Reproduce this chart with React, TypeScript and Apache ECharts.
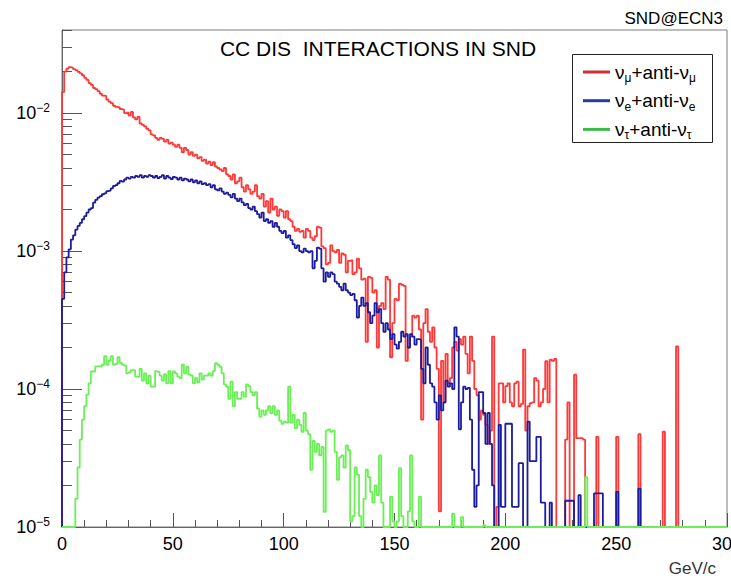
import React, { useEffect, useRef } from "react";
import * as echarts from "echarts";

// Histogram contents, one value per 1 GeV/c bin from 0 to 300 GeV/c,
// expressed in units of 1e-5 (0 = empty bin).
const UNIT = 1e-5;
const BIN_WIDTH = 1;
const X_MIN = 0;
const X_MAX = 300;
const X_INTERVAL = 50;
const Y_MIN = 1e-5;
const Y_MAX = 0.04;

const numuBins = [
  1420, 2000, 2100, 2150, 2130, 2080, 2050, 1990, 1940, 1880,
  1800, 1740, 1650, 1600, 1520, 1490, 1440, 1380, 1340, 1330,
  1250, 1210, 1180, 1130, 1110, 1100, 1070, 1060, 1000, 1010,
  960, 1020, 930, 900, 940, 840, 820, 800, 770, 750,
  700, 690, 660, 640, 660, 650, 620, 640, 600, 610,
  590, 570, 590, 560, 520, 560, 540, 500, 520, 490,
  500, 470, 480, 450, 460, 430, 445, 420, 440, 410,
  400, 390, 380, 400, 360, 350, 330, 360, 310, 320,
  340, 290, 270, 300, 280, 260, 270, 300, 250, 240,
  260, 210, 230, 190, 240, 200, 210, 180, 200, 195,
  175, 195, 170, 165, 150, 140, 145, 138, 140, 125,
  145, 140, 125, 120, 128, 150, 148, 108, 105, 80,
  82, 110, 100, 98, 102, 82, 96, 94, 70, 85,
  86, 68, 70, 88, 75, 62, 63, 22, 65, 64,
  50, 52, 20, 40, 42, 38, 65, 62, 17, 30,
  45, 44, 58, 57, 56, 16, 20, 24, 34, 33,
  34, 27, 6, 30, 38, 26, 22, 28, 20, 14,
  1.3, 16, 8, 18, 11, 12, 20, 22, 19, 23,
  21, 24, 18, 13, 24, 16, 10, 9, 6, 7,
  6.5, 5.5, 4, 5, 24, 0, 1.4, 11, 11, 8,
  10.5, 11, 8, 7.5, 11, 11.3, 7.5, 7.8, 19.3, 5,
  7.5, 7.9, 8, 12, 11.5, 7.5, 8, 10, 15.9, 8,
  16.3, 16, 16.5, 0, 0, 0, 0, 4.3, 8, 0,
  0, 12.7, 4.4, 4.4, 4.4, 4.3, 0, 0, 0, 0,
  0, 4.5, 0, 0, 0, 0, 0, 0, 0, 0,
  4.5, 0, 0, 0, 0, 0, 0, 0, 0, 0,
  4.7, 0, 0, 0, 0, 0, 0, 0, 0, 0,
  0, 4.9, 0, 0, 0, 0, 0, 20.4, 0, 0,
  0, 0, 0, 0, 0, 0, 0, 0, 0, 0,
  0, 0, 0, 0, 0, 0, 0, 0, 0, 0,
];

const nueBins = [
  45, 70, 90, 103, 121, 130, 143, 152, 160, 170,
  179, 190, 200, 205, 224, 235, 244, 250, 258, 262,
  272, 275, 285, 296, 300, 310, 322, 318, 330, 340,
  335, 345, 340, 350, 345, 355, 340, 350, 345, 355,
  350, 340, 350, 338, 345, 355, 335, 350, 340, 332,
  345, 340, 330, 340, 325, 335, 330, 320, 330, 315,
  325, 310, 320, 305, 310, 300, 305, 290, 300, 280,
  275, 285, 270, 260, 265, 255, 245, 260, 240, 230,
  240, 225, 215, 220, 205, 200, 210, 195, 185, 175,
  190, 165, 170, 160, 165, 150, 160, 150, 140, 135,
  140, 125, 130, 120, 112, 105, 110, 100, 98, 104,
  100, 98, 100, 75, 85, 106, 104, 75, 60, 70,
  65, 70, 68, 60, 58, 55, 52, 58, 52, 50,
  48, 49, 44, 33, 40, 46, 40, 42, 36, 30,
  34, 42, 36, 38, 30, 26, 30, 27, 23, 25,
  21, 19.6, 22, 26, 24, 25, 20, 25, 24, 21,
  23, 22.8, 14, 11, 20, 15, 11, 10.4, 8, 6,
  9, 7, 8, 11.5, 10.4, 11, 10, 28, 24, 5.1,
  8, 10.4, 10, 10.2, 6, 2.6, 1.4, 2.0, 9.5, 9.5,
  6.7, 4, 6.7, 4, 2.0, 0, 0, 5.5, 1.4, 1.4,
  5.6, 5.6, 5.6, 1.4, 1.4, 1.4, 2.9, 2.9, 0, 0,
  5.8, 3.0, 3.0, 3.0, 4.5, 4.5, 1.5, 1.5, 0, 0,
  1.5, 0, 0, 0, 0, 0, 0, 1.55, 1.55, 1.55,
  1.55, 0, 0, 1.7, 0, 0, 0, 0, 0, 0,
  1.75, 1.75, 1.75, 1.75, 0, 0, 0, 0, 0, 0,
  1.8, 0, 0, 0, 0, 0, 0, 0, 0, 0,
  1.9, 0, 0, 0, 0, 0, 0, 0, 0, 0,
  0, 0, 0, 0, 0, 0, 0, 0, 0, 0,
  0, 0, 0, 0, 0, 0, 0, 0, 0, 0,
  0, 0, 0, 0, 0, 0, 0, 0, 0, 0,
];

const nutauBins = [
  0, 0, 0, 0, 0, 0, 1.6, 2.7, 4.3, 6.0,
  7.5, 9.1, 11, 13.4, 13.4, 14.6, 14.6, 14.6, 15.0, 17.3,
  15.0, 16.0, 17.3, 15.0, 15.2, 17.0, 15.5, 15.0, 14.8, 13.0,
  13.2, 13.7, 13.7, 12.3, 12.3, 14.0, 11.5, 13.0, 11.0, 12.5,
  10.4, 10.4, 13.5, 13.3, 12.5, 11.5, 12.8, 11.0, 13.5, 11.0,
  13.4, 13.0, 12.3, 12.0, 15.0, 13.0, 14.5, 12.7, 12.5, 11.0,
  12.0, 11.2, 13.0, 11.7, 12.5, 12.5, 13.0, 12.5, 13.5, 15.4,
  15.0, 14.5, 13.0, 10.8, 10.4, 8.5, 11.3, 7.5, 9.5, 8.5,
  8.5, 9.5, 8.8, 10.8, 10.5, 9.5, 9.0, 9.5, 7.2, 6.3,
  7.0, 6.5, 7.0, 7.5, 6.7, 7.5, 6.5, 7.0, 5.9, 5.6,
  5.8, 5.7, 10.4, 5.7, 6.5, 5.2, 6.0, 5.5, 4.9, 6.7,
  5.0, 4.7, 2.6, 4.2, 3.5, 4.0, 3.3, 3.8, 1.29, 5.0,
  5.1, 4.9, 5.0, 3.5, 2.2, 3.2, 3.3, 2.7, 3.9, 3.6,
  1.1, 1.2, 2.7, 2.4, 1.2, 0, 1.6, 2.6, 2.3, 1.8,
  1.5, 2.0, 1.7, 3.3, 1.5, 0, 0, 0, 1.66, 1.1,
  0, 1.1, 2.67, 1.2, 0, 0, 1.3, 3.3, 1.1, 0,
  0, 1.66, 0, 0, 0, 0, 0, 0, 0, 0,
  0, 0, 0, 0, 0, 0, 1.25, 0, 0, 0,
  1.18, 0, 0, 0, 0, 0, 0, 0, 0, 0,
  1.03, 0, 0, 0, 0, 0, 0, 0, 0, 0,
  0, 0, 0, 0, 0, 0, 0, 0, 0, 0,
  0, 0, 0, 0, 0, 0, 0, 0, 0, 0,
  0, 0, 0, 0, 0, 0, 0, 0, 0, 0,
  0, 0, 0, 0, 0, 0, 2.3, 0, 0, 0,
  0, 0, 0, 0, 0, 0, 0, 0, 0, 0,
  0, 0, 0, 0, 0, 0, 0, 0, 0, 0,
  0, 0, 0, 0, 0, 0, 0, 0, 0, 0,
  0, 0, 0, 0, 0, 0, 0, 0, 0, 0,
  0, 0, 0, 0, 0, 0, 0, 0, 0, 0,
  0, 0, 0, 0, 0, 0, 0, 0, 0, 0,
];

const yMajorTicks = [1e-5, 1e-4, 1e-3, 1e-2];
const yMinorMultipliers = [2, 3, 4, 5, 6, 7, 8, 9];

const TITLE = "CC DIS  INTERACTIONS IN SND";
const CORNER_TEXT = "SND@ECN3";
const X_TITLE = "GeV/c";

const FONT = "Liberation Sans, Arial, Helvetica, sans-serif";

const SERIES = [
  { name: "numu", bins: numuBins, color: "#ff3838", legendColor: "#cc3330", sub: "μ" },
  { name: "nue", bins: nueBins, color: "#1c1ca0", legendColor: "#2b3a9c", sub: "e" },
  { name: "nutau", bins: nutauBins, color: "#6af056", legendColor: "#3cb94a", sub: "τ" },
];

function toSteps(bins: number[]): [number, number][] {
  const pts: [number, number][] = [[X_MIN, Y_MIN]];
  bins.forEach((b, i) => {
    pts.push([X_MIN + i * BIN_WIDTH, b > 0 ? b * UNIT : Y_MIN]);
  });
  const last = bins[bins.length - 1];
  pts.push([X_MIN + bins.length * BIN_WIDTH, last > 0 ? last * UNIT : Y_MIN]);
  return pts;
}

const yMinorTicks: number[] = [];
yMajorTicks.forEach((d) => {
  yMinorMultipliers.forEach((m) => {
    const v = m * d;
    if (v <= Y_MAX * 1.0001) yMinorTicks.push(v);
  });
});

export default function App() {
  const ref = useRef<HTMLDivElement>(null);
  useEffect(() => {
    if (!ref.current) return;
    const chart = echarts.init(ref.current, undefined, { renderer: "svg" });
    const legendX = 572;
    const legendY = 54;
    const rowGap = 28.7;
    const legendChildren: any[] = [
      {
        type: "rect",
        shape: { x: legendX + 0.5, y: legendY + 0.5, width: 140, height: 88 },
        style: { fill: "#ffffff", stroke: "#222", lineWidth: 1 },
      },
    ];
    SERIES.forEach((s, i) => {
      const cy = legendY + 18 + i * rowGap;
      legendChildren.push({
        type: "line",
        shape: { x1: legendX + 11, y1: cy, x2: legendX + 38, y2: cy },
        style: { stroke: s.legendColor, lineWidth: 3 },
      });
      legendChildren.push({
        type: "text",
        x: legendX + 43,
        y: cy,
        style: {
          text: `{m|ν}{s|${s.sub}}{m|+anti-ν}{s|${s.sub}}`,
          verticalAlign: "middle",
          align: "left",
          fill: "#000",
          rich: {
            m: { fontSize: 19, fontFamily: FONT, lineHeight: 24, fill: "#000" },
            s: { fontSize: 12, fontFamily: FONT, lineHeight: 12, verticalAlign: "bottom", fill: "#000" },
          },
        },
      });
    });

    const option: any = {
      animation: false,
      backgroundColor: "#ffffff",
      textStyle: { fontFamily: FONT },
      grid: {
        left: 62,
        right: 4,
        top: 30,
        bottom: 49,
        containLabel: false,
        outerBoundsMode: "none",
        show: true,
        borderColor: "#7a7a7a",
        borderWidth: 1,
      },
      xAxis: {
        type: "value",
        min: X_MIN,
        max: X_MAX,
        interval: X_INTERVAL,
        axisLine: { show: true, lineStyle: { color: "#666", width: 1 } },
        axisTick: { show: true, inside: true, length: 14, lineStyle: { color: "#555" } },
        minorTick: { show: true, splitNumber: 5, length: 7, lineStyle: { color: "#555" } },
        axisLabel: { fontSize: 18, color: "#000", margin: 8, fontFamily: FONT },
        splitLine: { show: false },
      },
      yAxis: [
        {
          type: "log",
          logBase: 10,
          min: Y_MIN,
          max: Y_MAX,
          axisLine: { show: true, lineStyle: { color: "#666", width: 1 } },
          axisTick: { show: true, inside: true, length: 20, customValues: yMajorTicks, lineStyle: { color: "#555" } },
          axisLabel: {
            customValues: yMajorTicks,
            margin: 12,
            formatter: (v: number) => {
              const e = Math.round(Math.log10(v));
              return `{b|10}{s|${e < 0 ? "−" : ""}${Math.abs(e)}}`;
            },
            rich: {
              b: { fontSize: 18, color: "#000", fontFamily: FONT, lineHeight: 22 },
              s: { fontSize: 12, color: "#000", fontFamily: FONT, lineHeight: 12, verticalAlign: "top" },
            },
          },
          splitLine: { show: false },
        },
        {
          type: "log",
          logBase: 10,
          min: Y_MIN,
          max: Y_MAX,
          position: "left",
          axisLine: { show: false },
          axisTick: { show: true, inside: true, length: 10, customValues: yMinorTicks, lineStyle: { color: "#555" } },
          axisLabel: { show: false },
          splitLine: { show: false },
        },
      ],
      series: SERIES.map((s, i) => ({
        type: "line",
        name: s.name,
        data: toSteps(s.bins),
        step: "end",
        showSymbol: false,
        symbol: "none",
        silent: true,
        z: 2 + i,
        lineStyle: { color: s.color, width: 1.8 },
        itemStyle: { color: s.color },
      })),
      graphic: [
        {
          type: "text",
          x: 723,
          y: 18,
          style: { text: CORNER_TEXT, align: "right", verticalAlign: "middle", fontSize: 17, fontFamily: FONT, fill: "#000" },
        },
        {
          type: "text",
          x: 378,
          y: 48,
          style: { text: TITLE, align: "center", verticalAlign: "middle", fontSize: 21, fontFamily: FONT, fill: "#000" },
        },
        {
          type: "text",
          x: 716,
          y: 568,
          style: { text: X_TITLE, align: "right", verticalAlign: "middle", fontSize: 17, fontFamily: FONT, fill: "#333" },
        },
        { type: "group", children: legendChildren, z: 10 },
      ],
    };
    chart.setOption(option);
    return () => chart.dispose();
  }, []);
  return (
    <div
      ref={ref}
      style={{ position: "absolute", left: 0, top: 0, width: 731, height: 576, background: "#fff" }}
    />
  );
}
